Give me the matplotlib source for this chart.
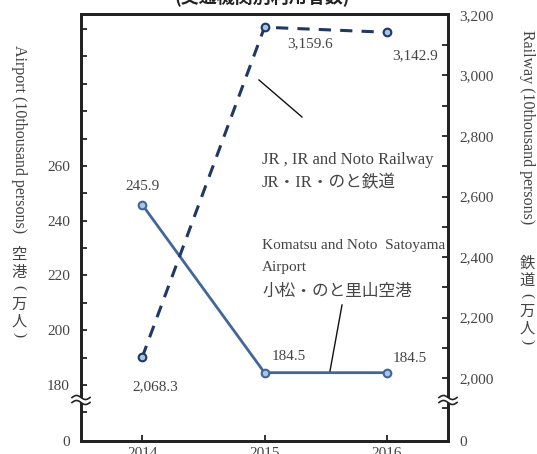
import numpy as np
import matplotlib
matplotlib.use("Agg")
import matplotlib.pyplot as plt
from matplotlib.lines import Line2D

plt.rcParams['font.family'] = ['Liberation Serif', 'Noto Sans CJK JP', 'DejaVu Sans']

years = ["2014", "2015", "2016"]
airport = [245.9, 184.5, 184.5]
railway = [2068.3, 3159.6, 3142.9]
airport_labels = ["245.9", "184.5", "184.5"]
railway_labels = ["2,068.3", "3,159.6", "3,142.9"]
left_ticks = [180, 200, 220, 240, 260]
right_ticks = [2000, 2200, 2400, 2600, 2800, 3000, 3200]

W, H = 537, 454
fig = plt.figure(figsize=(W / 100, H / 100), dpi=100)

def fx(px):
    return px / W

def fy(py):
    return 1 - py / H

ax_l, ax_r, ax_t, ax_b = 81, 448, 14, 441
ax = fig.add_axes([fx(ax_l), fy(ax_b), fx(ax_r) - fx(ax_l), fy(ax_t) - fy(ax_b)])
ax2 = ax.twinx()

txt_col = "#444444"
spine_col = "#222222"

# left axis scale (broken)
lb = 180 - (ax_b - 385) / 2.7375
lt = 260 + (166 - ax_t) / 2.7375
ax.set_ylim(lb, lt)
ax.set_xlim(-0.5, 2.5)
ax.set_yticks([lb] + left_ticks)
ax.set_yticklabels(["0"] + [str(v) for v in left_ticks])
ax.set_yticks(np.arange(170, 311, 10), minor=True)

# right axis scale (broken)
rb = 2000 - (ax_b - 378) / 0.3025
rt = 3200 + (15 - ax_t) / 0.3025
ax2.set_ylim(rb, rt)
ax2.set_yticks([rb] + right_ticks)
ax2.set_yticklabels(["0"] + [f"{v:,}" for v in right_ticks])
ax2.set_yticks(np.arange(1900, 3200, 100), minor=True)

x = np.arange(len(years))
ax.set_xticks(x)
ax.set_xticklabels(years)

for a in (ax, ax2):
    for s in a.spines.values():
        s.set_color(spine_col)
        s.set_linewidth(2)
    a.tick_params(which="both", direction="in", length=4, width=1.3, color=spine_col,
                  labelsize=11, labelcolor=txt_col, pad=8)
ax.tick_params(axis="y", which="minor", length=4)
ax.tick_params(axis="x", pad=4)

# lines
air_line = "#41679a"
rail_line = "#1f3864"
face = "#a9c4e4"
ax.plot(x, airport, color=air_line, lw=2, marker="o", ms=5.5, mfc=face, mec=air_line,
        mew=1.5, zorder=3)
ax2.plot(x, railway, color=rail_line, lw=2.2, ls=(0, (4, 3)), marker="o", ms=5.5,
         mfc=face, mec=rail_line, mew=1.5, zorder=3)

# data labels
lab_kw = dict(fontsize=11, color=txt_col, transform=fig.transFigure, ha="center", va="center")
air_pos = [(143, 187), (289, 356), (410, 358)]
rail_pos = [(155, 387), (310, 44), (415, 56)]
for (px, py), t in zip(air_pos, airport_labels):
    fig.text(fx(px), fy(py), t, **lab_kw)
for (px, py), t in zip(rail_pos, railway_labels):
    fig.text(fx(px), fy(py), t, **lab_kw)

# annotations
ann_kw = dict(fontsize=12, color=txt_col, transform=fig.transFigure, ha="left", va="center")
ann_kw2 = dict(fontsize=11, color=txt_col, transform=fig.transFigure, ha="left", va="center")
fig.text(fx(262), fy(160), "JR , IR and Noto Railway", **ann_kw)
fig.text(fx(262), fy(183), "JR・IR・のと鉄道", **ann_kw)
fig.text(fx(262), fy(245), "Komatsu and Noto  Satoyama", **ann_kw2)
fig.text(fx(262), fy(268), "Airport", **ann_kw2)
fig.text(fx(262), fy(292), "小松・のと里山空港", **ann_kw)
fig.add_artist(Line2D([fx(259), fx(302)], [fy(80), fy(117)], color="#111111", lw=1,
                      transform=fig.transFigure))
fig.add_artist(Line2D([fx(342), fx(330)], [fy(305), fy(371)], color="#111111", lw=1,
                      transform=fig.transFigure))

# axis break marks
def brk(cx, cy):
    t = np.linspace(-9, 9, 60)
    w = 2.0 * np.sin(t / 9 * np.pi)
    y1 = cy - 2.5 + w
    y2 = cy + 2.5 + w
    fig.patches.append(plt.Polygon(
        np.column_stack([fx(cx + np.r_[t, t[::-1]]), fy(np.r_[y1, y2[::-1]])]),
        closed=True, facecolor="white", edgecolor="none", transform=fig.transFigure,
        zorder=10))
    for yy in (y1, y2):
        fig.add_artist(Line2D(fx(cx + t), fy(yy), color=spine_col, lw=1.2,
                              transform=fig.transFigure, zorder=11))

brk(ax_l, 400)
brk(ax_r, 400)

# axis titles (vertical, CJK upright)
cjk = ['Noto Sans CJK JP', 'DejaVu Sans']

def vlabel(px, py0, latin, chars, ys):
    fig.text(fx(px), fy(py0), latin, rotation=-90, fontsize=11.5, color=txt_col,
             ha="center", va="top", transform=fig.transFigure)
    for ch, py in zip(chars, ys):
        if ch in "()":
            fig.text(fx(px), fy(py), ch, rotation=-90, fontsize=11, color=txt_col,
                     ha="center", va="center", transform=fig.transFigure)
        else:
            fig.text(fx(px), fy(py), ch, fontsize=11, color=txt_col, ha="center",
                     va="center", transform=fig.transFigure, family=cjk)

vlabel(19, 45, "Airport (10thousand persons)", ["空", "港", "(", "万", "人", ")"],
       [254, 272, 288, 304, 321, 335])
vlabel(527, 30, "Railway (10thousand persons)", ["鉄", "道", "(", "万", "人", ")"],
       [263, 281, 296, 311, 328, 342])

# title (cut off at top)
fig.text(fx(262), fy(-3), "(交通機関別利用者数)", fontsize=13, fontweight="bold",
         color="#222222", ha="center", va="center", transform=fig.transFigure,
         family=cjk)

fig.savefig("out.png", dpi=100)
